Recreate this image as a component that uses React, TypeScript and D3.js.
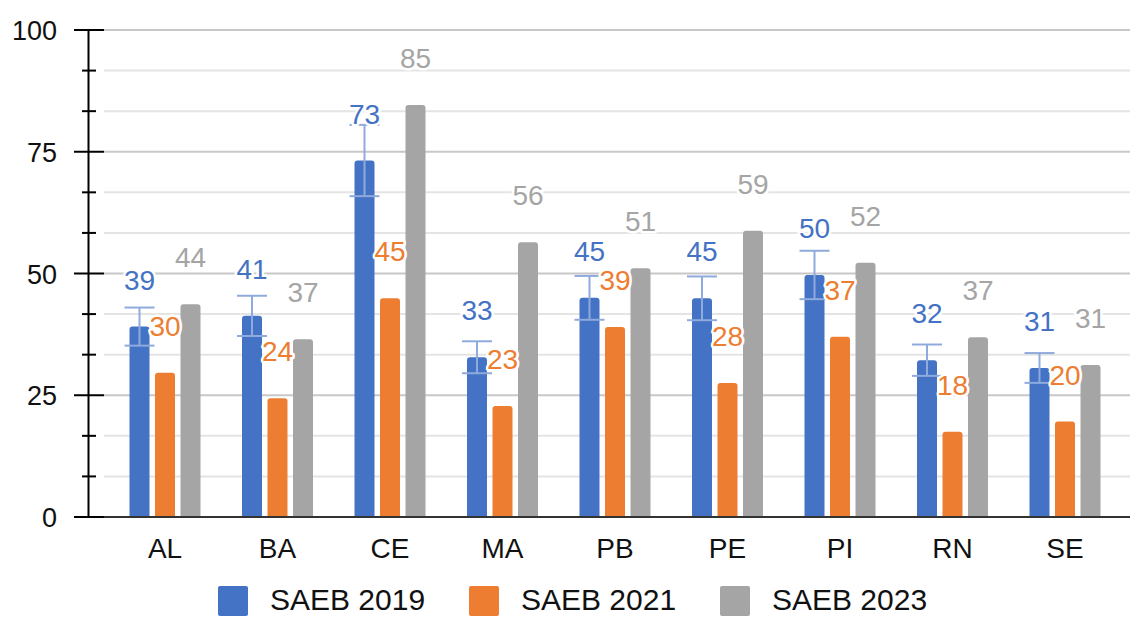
import { useEffect, useRef } from 'react';
import * as d3 from 'd3';

const categories = ['AL', 'BA', 'CE', 'MA', 'PB', 'PE', 'PI', 'RN', 'SE'];
const saeb2019 = [39.1, 41.3, 73.2, 32.8, 45.0, 44.9, 49.7, 32.2, 30.6];
const saeb2021 = [29.6, 24.4, 44.9, 22.8, 39.0, 27.5, 37.0, 17.5, 19.6];
const saeb2023 = [43.7, 36.5, 84.6, 56.4, 51.1, 58.8, 52.2, 36.9, 31.2];
const seriesNames = ['SAEB 2019', 'SAEB 2021', 'SAEB 2023'];
const seriesColors = ['#4472C4', '#ED7D31', '#A5A5A5'];
const yTicks = [0, 25, 50, 75, 100];
const errorShare = 0.1; // error bars only on 2019, +/-10%

const FONT = '"Liberation Sans", Arial, sans-serif';

// bar with rounded top corners
function topRounded(x: number, y: number, w: number, h: number, r: number) {
  r = Math.min(r, h, w / 2);
  return `M${x},${y + h}V${y + r}Q${x},${y} ${x + r},${y}H${x + w - r}Q${x + w},${y} ${x + w},${y + r}V${y + h}Z`;
}

const App = () => {
  const svgRef = useRef<SVGSVGElement>(null);

  useEffect(() => {
    const svg = d3.select(svgRef.current).attr('width', 1130).attr('height', 617);
    svg.selectAll('*').remove();

    const series = [saeb2019, saeb2021, saeb2023];

    const y = d3.scaleLinear().domain([0, 100]).range([517, 30]);
    const x = d3.scaleBand().domain(categories).range([108.75, 1121.25]).padding(0);
    const x1 = d3.scaleBand().domain(seriesNames).range([-38.25, 38.25]).padding(0);
    const barW = 20;
    const barX = (i: number, si: number) =>
      x(categories[i])! + x.bandwidth() / 2 + x1(seriesNames[si])! + x1.bandwidth() / 2;

    // gridlines
    const minor = d3.range(0, 100.01, 25 / 3).filter((v) => !yTicks.some((t) => Math.abs(t - v) < 0.01));
    svg.append('g')
      .selectAll('line')
      .data(minor)
      .enter()
      .append('line')
      .attr('x1', 104).attr('x2', 1130)
      .attr('y1', (d) => y(d)).attr('y2', (d) => y(d))
      .attr('stroke', '#e4e4e4').attr('stroke-width', 2);
    svg.append('g')
      .selectAll('line')
      .data(yTicks.filter((t) => t > 0))
      .enter()
      .append('line')
      .attr('x1', 104).attr('x2', 1130)
      .attr('y1', (d) => y(d)).attr('y2', (d) => y(d))
      .attr('stroke', '#c8c8c8').attr('stroke-width', 2);

    // bars
    series.forEach((vals, si) => {
      svg.append('g')
        .selectAll('path')
        .data(vals)
        .enter()
        .append('path')
        .attr('d', (d, i) => topRounded(barX(i, si) - barW / 2, y(d), barW, y(0) - y(d), 3))
        .attr('fill', seriesColors[si]);
    });

    // baseline
    svg.append('line')
      .attr('x1', 74).attr('x2', 1130)
      .attr('y1', y(0)).attr('y2', y(0))
      .attr('stroke', '#333').attr('stroke-width', 2);

    // y axis
    const ax = svg.append('g');
    ax.append('line').attr('x1', 88.5).attr('x2', 88.5).attr('y1', y(100) - 1).attr('y2', y(0) + 1)
      .attr('stroke', '#000').attr('stroke-width', 2);
    ax.selectAll('.maj').data(yTicks).enter().append('line')
      .attr('x1', 74).attr('x2', 104).attr('y1', (d) => y(d)).attr('y2', (d) => y(d))
      .attr('stroke', '#000').attr('stroke-width', 2);
    ax.selectAll('.min').data(minor).enter().append('line')
      .attr('x1', 82).attr('x2', 96).attr('y1', (d) => y(d)).attr('y2', (d) => y(d))
      .attr('stroke', '#000').attr('stroke-width', 2);
    ax.selectAll('text').data(yTicks).enter().append('text')
      .attr('x', 57).attr('y', (d) => y(d) + 1)
      .attr('text-anchor', 'end').attr('dominant-baseline', 'central')
      .attr('font-family', FONT).attr('font-size', 27).attr('fill', '#111')
      .text((d) => d);

    // error bars (2019)
    const eb = svg.append('g').attr('stroke', '#8FAADC').attr('stroke-width', 2);
    saeb2019.forEach((v, i) => {
      const cx = barX(i, 0);
      const hi = y(v * (1 + errorShare));
      const lo = y(v * (1 - errorShare));
      eb.append('line').attr('x1', cx).attr('x2', cx).attr('y1', hi).attr('y2', lo);
      eb.append('line').attr('x1', cx - 15).attr('x2', cx + 15).attr('y1', hi).attr('y2', hi);
      eb.append('line').attr('x1', cx - 15).attr('x2', cx + 15).attr('y1', lo).attr('y2', lo);
    });

    // data labels
    series.forEach((vals, si) => {
      svg.append('g')
        .selectAll('text')
        .data(vals)
        .enter()
        .append('text')
        .attr('x', (d, i) => barX(i, si))
        .attr('y', (d) => y(d) - 37)
        .attr('text-anchor', 'middle')
        .attr('font-family', FONT).attr('font-size', 28)
        .attr('fill', seriesColors[si])
        .attr('stroke', '#fff').attr('stroke-width', 5).attr('stroke-linejoin', 'round')
        .attr('paint-order', 'stroke')
        .text((d) => Math.round(d));
    });

    // category labels
    svg.append('g')
      .selectAll('text')
      .data(categories)
      .enter()
      .append('text')
      .attr('x', (d) => x(d)! + x.bandwidth() / 2)
      .attr('y', 558)
      .attr('text-anchor', 'middle')
      .attr('font-family', FONT).attr('font-size', 28).attr('fill', '#111')
      .text((d) => d);

    // legend
    const lg = svg.append('g');
    seriesNames.forEach((name, i) => {
      const lx = 218 + i * 251;
      lg.append('rect').attr('x', lx).attr('y', 586).attr('width', 30).attr('height', 30)
        .attr('rx', 2).attr('fill', seriesColors[i]);
      lg.append('text').attr('x', lx + 52).attr('y', 610)
        .attr('font-family', FONT).attr('font-size', 30).attr('fill', '#111')
        .text(name);
    });
  }, []);

  return <svg ref={svgRef} style={{ position: 'absolute', left: 0, top: 0 }}></svg>;
};

export default App;
